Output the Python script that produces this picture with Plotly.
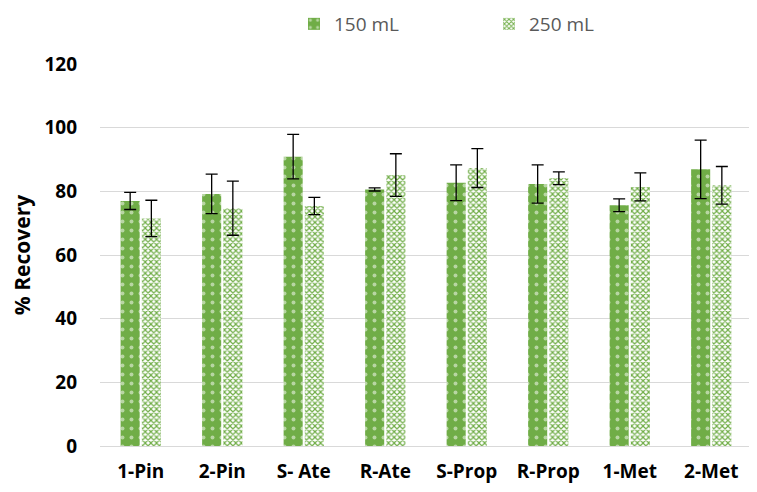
import plotly.graph_objects as go

categories = ["1-Pin", "2-Pin", "S- Ate", "R-Ate", "S-Prop", "R-Prop", "1-Met", "2-Met"]
vals_150 = [77.0, 79.2, 90.9, 80.6, 82.7, 82.3, 75.6, 86.9]
err_150 = [2.7, 6.2, 7.0, 0.5, 5.6, 6.0, 2.0, 9.2]
vals_250 = [71.5, 74.7, 75.4, 85.1, 87.3, 84.1, 81.4, 81.9]
err_250 = [5.7, 8.5, 2.7, 6.7, 6.1, 2.0, 4.4, 5.9]
y_ticks = [0, 20, 40, 60, 80, 100, 120]

GREEN = "#70AD47"
FONT = "Open Sans"

fig = go.Figure()
fig.add_trace(go.Bar(
    name="150 mL", x=categories, y=vals_150,
    error_y=dict(type="data", array=err_150, color="black", thickness=1.3, width=6),
    marker=dict(color=GREEN, line=dict(width=0),
                pattern=dict(shape=".", fgcolor="white", bgcolor=GREEN,
                             size=9, solidity=0.15, fillmode="overlay")),
))
fig.add_trace(go.Bar(
    name="250 mL", x=categories, y=vals_250,
    error_y=dict(type="data", array=err_250, color="black", thickness=1.3, width=6),
    marker=dict(color="#A9D08E", line=dict(width=0),
                pattern=dict(shape="x", fgcolor=GREEN, bgcolor="white",
                             size=4, solidity=0.5, fillmode="replace")),
))

# note: the page body has an 8px default margin, compensated below
fig.update_layout(
    width=757, height=492,
    margin=dict(l=92, r=13, t=56, b=54, autoexpand=False),
    paper_bgcolor="white", plot_bgcolor="white",
    barmode="group", bargap=0.48, bargroupgap=0.1,
    font=dict(family=FONT, color="black"),
    legend=dict(orientation="h", x=481 / 757, xanchor="center", xref="container",
                y=1 - 16 / 492, yanchor="middle", yref="container",
                font=dict(size=19, color="#595959"), itemwidth=30,
                entrywidth=150, entrywidthmode="pixels",
                traceorder="normal"),
    xaxis=dict(showgrid=False, showline=False, ticks="outside", ticklen=8,
               tickcolor="rgba(0,0,0,0)", automargin=False,
               tickfont=dict(size=19, family=FONT, weight="bold", color="black")),
    yaxis=dict(range=[0, 120], tickvals=y_ticks, showgrid=True, gridcolor="#D9D9D9",
               gridwidth=1, zeroline=True, zerolinecolor="#D9D9D9", zerolinewidth=1,
               showline=False, ticklabelstandoff=22, automargin=False,
               tickfont=dict(size=19, family=FONT, weight="bold", color="black"),
               title=dict(text="% Recovery", standoff=17,
                          font=dict(size=21, family=FONT, weight="bold", color="black"))),
)

fig.write_html("out.html")
